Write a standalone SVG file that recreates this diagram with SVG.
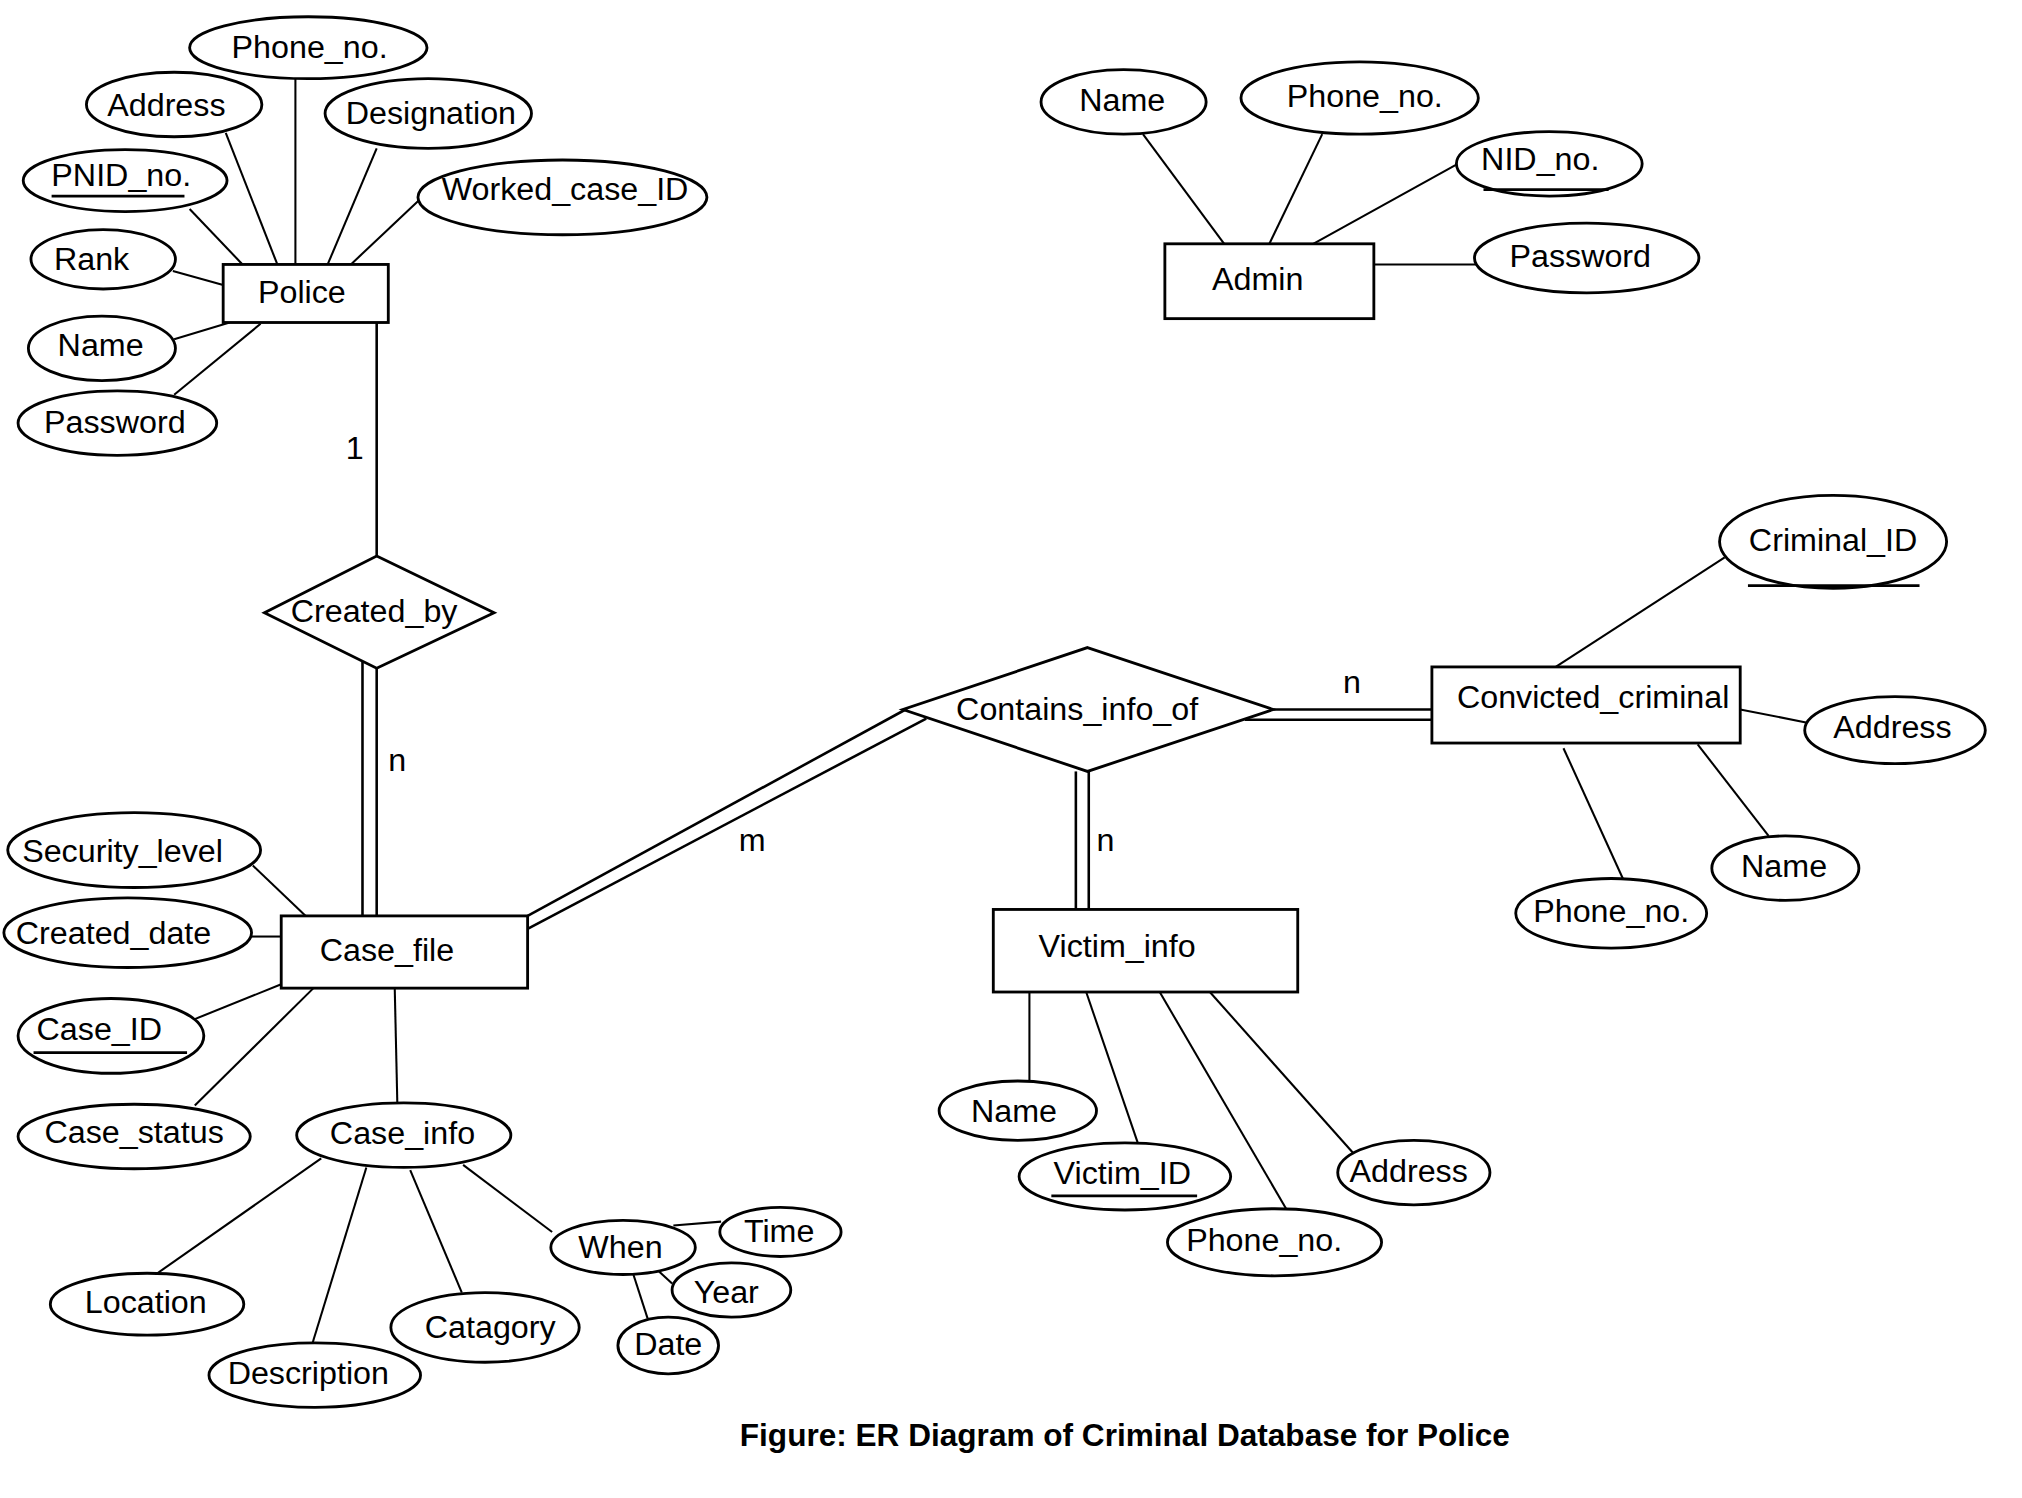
<svg xmlns="http://www.w3.org/2000/svg" width="2022" height="1498" viewBox="0 0 2022 1498">
<style>
.e{fill:#fff;stroke:#000;stroke-width:2.2}
.r{fill:#fff;stroke:#000;stroke-width:2.2}
.l{stroke:#000;stroke-width:1.6;fill:none}
.d{stroke:#000;stroke-width:2;fill:none}
text{font-family:"Liberation Sans",Arial,sans-serif;font-size:25px;fill:#000;text-anchor:middle}
.t{font-weight:bold;font-size:25px}
.u{stroke:#000;stroke-width:2.2}
</style>
<rect width="2022" height="1498" fill="#fff"/>
<g transform="scale(1.29,1.29)">
<g id="connectors">
<line class="l" x1="229" y1="61" x2="229" y2="205"/>
<line class="l" x1="175" y1="103" x2="215" y2="205"/>
<line class="l" x1="292" y1="115" x2="254" y2="205"/>
<line class="l" x1="147" y1="162" x2="188" y2="205"/>
<line class="l" x1="325" y1="155" x2="272" y2="205"/>
<line class="l" x1="134" y1="210" x2="173" y2="221"/>
<line class="l" x1="135" y1="263" x2="178" y2="250"/>
<line class="l" x1="135" y1="306" x2="202" y2="251"/>
<line class="d" x1="292" y1="250" x2="292" y2="431"/>
<line class="d" x1="281" y1="510" x2="281" y2="710"/>
<line class="d" x1="292" y1="518" x2="292" y2="710"/>
<line class="l" x1="196" y1="671" x2="237" y2="710"/>
<line class="l" x1="195" y1="726" x2="218" y2="726"/>
<line class="l" x1="151" y1="790" x2="218" y2="763"/>
<line class="l" x1="151" y1="857" x2="243" y2="766"/>
<line class="l" x1="306" y1="766" x2="308" y2="855"/>
<line class="l" x1="122" y1="987" x2="249" y2="898"/>
<line class="l" x1="242" y1="1042" x2="284" y2="905"/>
<line class="l" x1="358" y1="1002" x2="318" y2="907"/>
<line class="l" x1="428" y1="955" x2="359" y2="903"/>
<line class="l" x1="522" y1="950" x2="559" y2="947"/>
<line class="l" x1="508" y1="983" x2="521" y2="995"/>
<line class="l" x1="491" y1="988" x2="502" y2="1022"/>
<line class="d" x1="409" y1="710" x2="702" y2="550"/>
<line class="d" x1="409" y1="720" x2="718" y2="557"/>
<line class="d" x1="987" y1="550" x2="1110" y2="550"/>
<line class="d" x1="965" y1="558" x2="1110" y2="558"/>
<line class="d" x1="834" y1="598" x2="834" y2="705"/>
<line class="d" x1="844" y1="598" x2="844" y2="705"/>
<line class="l" x1="1337" y1="432" x2="1206" y2="517"/>
<line class="l" x1="1349" y1="550" x2="1400" y2="560"/>
<line class="l" x1="1316" y1="577" x2="1371" y2="648"/>
<line class="l" x1="1212" y1="580" x2="1258" y2="681"/>
<line class="l" x1="798" y1="769" x2="798" y2="838"/>
<line class="l" x1="842" y1="769" x2="882" y2="886"/>
<line class="l" x1="899" y1="769" x2="997" y2="937"/>
<line class="l" x1="937" y1="768" x2="1050" y2="895"/>
<line class="l" x1="886" y1="104" x2="949" y2="189"/>
<line class="l" x1="1025" y1="104" x2="984" y2="189"/>
<line class="l" x1="1130" y1="127" x2="1018" y2="189"/>
<line class="l" x1="1065" y1="205" x2="1144" y2="205"/>
<text x="275" y="356">1</text>
<text x="308" y="598">n</text>
<text x="583" y="660">m</text>
<text x="1048" y="537">n</text>
<text x="857" y="660">n</text>
</g>
<g id="police"><rect class="r" x="173" y="205" width="128" height="45"/><text x="234" y="235">Police</text></g>
<g id="police_phone"><ellipse class="e" cx="239" cy="37" rx="92" ry="24"/><text x="240" y="45">Phone_no.</text></g>
<g id="police_address"><ellipse class="e" cx="135" cy="81" rx="68" ry="25"/><text x="129" y="90">Address</text></g>
<g id="police_designation"><ellipse class="e" cx="332" cy="88" rx="80" ry="27"/><text x="334" y="96">Designation</text></g>
<g id="police_pnid"><ellipse class="e" cx="97" cy="140" rx="79" ry="24"/><text x="94" y="144">PNID_no.</text><line class="u" x1="40" y1="152" x2="143" y2="152"/></g>
<g id="police_worked"><ellipse class="e" cx="436" cy="153" rx="112" ry="29"/><text x="438" y="155">Worked_case_ID</text></g>
<g id="police_rank"><ellipse class="e" cx="80" cy="201" rx="56" ry="23"/><text x="71" y="209">Rank</text></g>
<g id="police_name"><ellipse class="e" cx="79" cy="270" rx="57" ry="25"/><text x="78" y="276">Name</text></g>
<g id="police_password"><ellipse class="e" cx="91" cy="328" rx="77" ry="25"/><text x="89" y="336">Password</text></g>
<g id="created_by"><polygon class="r" points="292,431 383,475 292,518 205,475"/><text x="290" y="482">Created_by</text></g>
<g id="case_file"><rect class="r" x="218" y="710" width="191" height="56"/><text x="300" y="745">Case_file</text></g>
<g id="security_level"><ellipse class="e" cx="104" cy="659" rx="98" ry="29"/><text x="95" y="668">Security_level</text></g>
<g id="created_date"><ellipse class="e" cx="99" cy="723" rx="96" ry="27"/><text x="88" y="732">Created_date</text></g>
<g id="case_id"><ellipse class="e" cx="86" cy="803" rx="72" ry="29"/><text x="77" y="806">Case_ID</text><line class="u" x1="26" y1="816" x2="145" y2="816"/></g>
<g id="case_status"><ellipse class="e" cx="104" cy="881" rx="90" ry="25"/><text x="104" y="886">Case_status</text></g>
<g id="case_info"><ellipse class="e" cx="313" cy="880" rx="83" ry="25"/><text x="312" y="887">Case_info</text></g>
<g id="location"><ellipse class="e" cx="114" cy="1011" rx="75" ry="24"/><text x="113" y="1018">Location</text></g>
<g id="description"><ellipse class="e" cx="244" cy="1066" rx="82" ry="25"/><text x="239" y="1073">Description</text></g>
<g id="catagory"><ellipse class="e" cx="376" cy="1029" rx="73" ry="27"/><text x="380" y="1037">Catagory</text></g>
<g id="when"><ellipse class="e" cx="483" cy="967" rx="56" ry="21"/><text x="481" y="975">When</text></g>
<g id="time"><ellipse class="e" cx="605" cy="955" rx="47" ry="19"/><text x="604" y="963">Time</text></g>
<g id="year"><ellipse class="e" cx="567" cy="1000" rx="46" ry="21"/><text x="563" y="1010">Year</text></g>
<g id="date"><ellipse class="e" cx="518" cy="1043" rx="39" ry="22"/><text x="518" y="1050">Date</text></g>
<g id="contains_info_of"><polygon class="r" points="843,502 987,550 843,598 700,550"/><text x="835" y="558">Contains_info_of</text></g>
<g id="convicted_criminal"><rect class="r" x="1110" y="517" width="239" height="59"/><text x="1235" y="549">Convicted_criminal</text></g>
<g id="criminal_id"><ellipse class="e" cx="1421" cy="420" rx="88" ry="36"/><text x="1421" y="427">Criminal_ID</text><line class="u" x1="1355" y1="454" x2="1488" y2="454"/></g>
<g id="criminal_address"><ellipse class="e" cx="1469" cy="566" rx="70" ry="26"/><text x="1467" y="572">Address</text></g>
<g id="criminal_name"><ellipse class="e" cx="1384" cy="673" rx="57" ry="25"/><text x="1383" y="680">Name</text></g>
<g id="criminal_phone"><ellipse class="e" cx="1249" cy="708" rx="74" ry="27"/><text x="1249" y="715">Phone_no.</text></g>
<g id="victim_info"><rect class="r" x="770" y="705" width="236" height="64"/><text x="866" y="742">Victim_info</text></g>
<g id="victim_name"><ellipse class="e" cx="789" cy="861" rx="61" ry="23"/><text x="786" y="870">Name</text></g>
<g id="victim_id"><ellipse class="e" cx="872" cy="912" rx="82" ry="26"/><text x="870" y="918">Victim_ID</text><line class="u" x1="815" y1="927" x2="928" y2="927"/></g>
<g id="victim_phone"><ellipse class="e" cx="988" cy="963" rx="83" ry="26"/><text x="980" y="970">Phone_no.</text></g>
<g id="victim_address"><ellipse class="e" cx="1096" cy="909" rx="59" ry="25"/><text x="1092" y="916">Address</text></g>
<g id="admin"><rect class="r" x="903" y="189" width="162" height="58"/><text x="975" y="225">Admin</text></g>
<g id="admin_name"><ellipse class="e" cx="871" cy="79" rx="64" ry="25"/><text x="870" y="86">Name</text></g>
<g id="admin_phone"><ellipse class="e" cx="1054" cy="76" rx="92" ry="28"/><text x="1058" y="83">Phone_no.</text></g>
<g id="admin_nid"><ellipse class="e" cx="1201" cy="127" rx="72" ry="25"/><text x="1194" y="132">NID_no.</text><line class="u" x1="1150" y1="147" x2="1247" y2="147"/></g>
<g id="admin_password"><ellipse class="e" cx="1230" cy="200" rx="87" ry="27"/><text x="1225" y="207">Password</text></g>
<text class="t" x="872" y="1121" textLength="597" lengthAdjust="spacingAndGlyphs">Figure: ER Diagram of Criminal Database for Police</text>
</g>
</svg>
